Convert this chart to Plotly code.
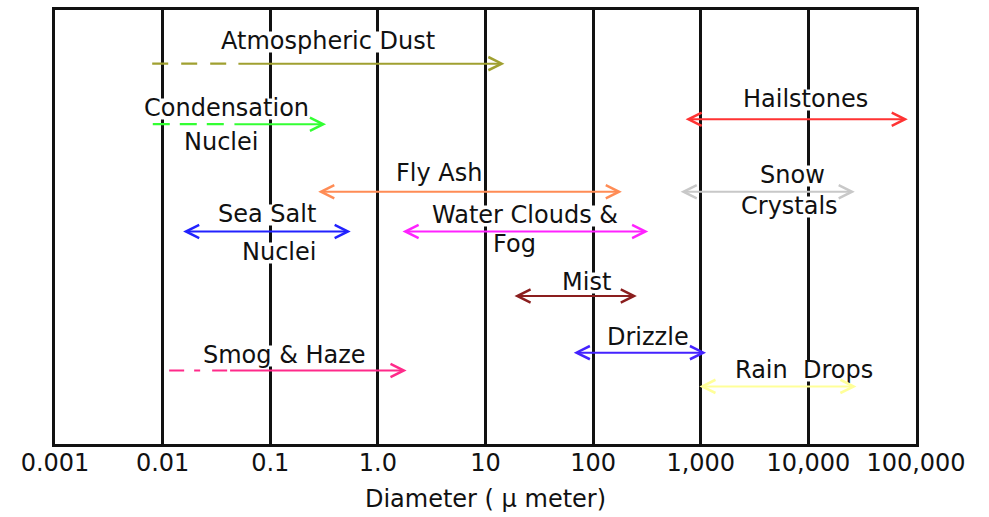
import numpy as np
import plotly.graph_objects as go

# Size ranges of atmospheric particles, diameters in micrometres
names = ["Atmospheric Dust", "Condensation Nuclei", "Hailstones", "Fly Ash",
         "Snow Crystals", "Sea Salt Nuclei", "Water Clouds & Fog", "Mist",
         "Smog & Haze", "Drizzle", "Rain Drops"]
d_min = [0.008, 0.0081, 700, 0.27, 630, 0.015, 1.64, 18, 0.0115, 64, 940]
# lower bound of the well-established part of each range (dashed below it)
d_solid = [0.049, 0.045, 700, 0.27, 630, 0.015, 1.64, 18, 0.041, 64, 940]
d_max = [15, 0.33, 84000, 185, 27000, 0.56, 325, 255, 1.85, 1120, 28000]

tick_vals = [0.001, 0.01, 0.1, 1, 10, 100, 1000, 10000, 100000]
tick_text = ["0.001", "0.01", "0.1", "1.0", "10", "100", "1,000", "10,000", "100,000"]

# drawing style per class: lane (px below top of plot), colour, heads, dash
lane = [54, 115, 110, 183, 183, 223, 223, 288, 363, 345, 379]
colors = ["#A0A030", "#33FF33", "#FF3333", "#FF8C55", "#C8C8C8", "#2222FF",
          "#FF22FF", "#8B1E1E", "#FF2A8A", "#4422FF", "#FFFF99"]
two_heads = [False, False, True, True, True, True, True, True, False, True, True]
dash_style = ["16px,13px", "17px,10px", None, None, None, None, None, None,
              "15px,10px,6px,12px", None, None]

# label text lines: (text, x in log10 units, lane px)
labels = [
    ("Atmospheric Dust", -0.463, 31.5),
    ("Condensation", -1.411, 98.5),
    ("Nuclei", -1.458, 132.5),
    ("Hailstones", 3.969, 89.5),
    ("Fly Ash", 0.568, 164.5),
    ("Snow", 3.848, 166.5),
    ("Crystals", 3.829, 197.5),
    ("Sea Salt", -1.030, 205),
    ("Nuclei", -0.919, 243.5),
    ("Water Clouds &", 1.367, 206),
    ("Fog", 1.274, 235.5),
    ("Mist", 1.934, 274),
    ("Smog & Haze", -0.872, 347),
    ("Drizzle", 2.510, 329),
    ("Rain  Drops", 3.959, 362),
]

FONT = "DejaVu Sans"
FSIZE = 24
INK = "#111111"

fig = go.Figure()

# dashed (uncertain) lower portions
for i, n in enumerate(names):
    if dash_style[i] and d_solid[i] > d_min[i]:
        fig.add_trace(go.Scatter(
            x=[d_min[i], d_solid[i]], y=[lane[i], lane[i]], mode="lines",
            line=dict(color=colors[i], width=2.2, dash=dash_style[i]),
            hoverinfo="skip", showlegend=False, name=n))

annotations = []
# white backing strips (text-width, cap-height) that break the grid lines
for text, lx, ly in labels:
    annotations.append(dict(
        x=lx, y=ly + 1, xref="x", yref="y", text=text, showarrow=False,
        font=dict(family=FONT, size=FSIZE, color="rgba(0,0,0,0)"),
        bgcolor="white", borderpad=0, height=20,
        xanchor="center", yanchor="middle"))
# the label text itself
for text, lx, ly in labels:
    annotations.append(dict(
        x=lx, y=ly, xref="x", yref="y", text=text, showarrow=False,
        font=dict(family=FONT, size=FSIZE, color=INK),
        xanchor="center", yanchor="middle"))
# range arrows
for i, n in enumerate(names):
    annotations.append(dict(
        x=np.log10(d_max[i]), y=lane[i], ax=np.log10(d_solid[i]), ay=lane[i],
        xref="x", yref="y", axref="x", ayref="y", text="", showarrow=True,
        arrowhead=5, arrowsize=1.3, arrowwidth=2, arrowcolor=colors[i],
        arrowside="end+start" if two_heads[i] else "end",
        startarrowhead=5, startarrowsize=1.3, standoff=0, startstandoff=0))

fig.update_layout(
    width=989, height=517,
    margin=dict(l=55, r=73, t=7, b=73),
    paper_bgcolor="white", plot_bgcolor="white",
    showlegend=False,
    annotations=annotations,
    xaxis=dict(
        type="log", range=[-3, 5], tickvals=tick_vals, ticktext=tick_text,
        showgrid=True, gridcolor=INK, gridwidth=2.5, zeroline=False,
        showline=True, linecolor=INK, linewidth=2.5, mirror=True,
        ticks="", ticklabelstandoff=-5,
        tickfont=dict(family=FONT, size=FSIZE, color=INK),
        title=dict(text="Diameter ( \u00b5 meter)", standoff=15,
                   font=dict(family=FONT, size=FSIZE, color=INK)),
        fixedrange=True),
    yaxis=dict(
        range=[437, 0], showgrid=False, zeroline=False, showticklabels=False,
        ticks="", showline=True, linecolor=INK, linewidth=2.5,
        mirror=True, fixedrange=True),
)

fig.write_html("out.html", config={"displayModeBar": False})
